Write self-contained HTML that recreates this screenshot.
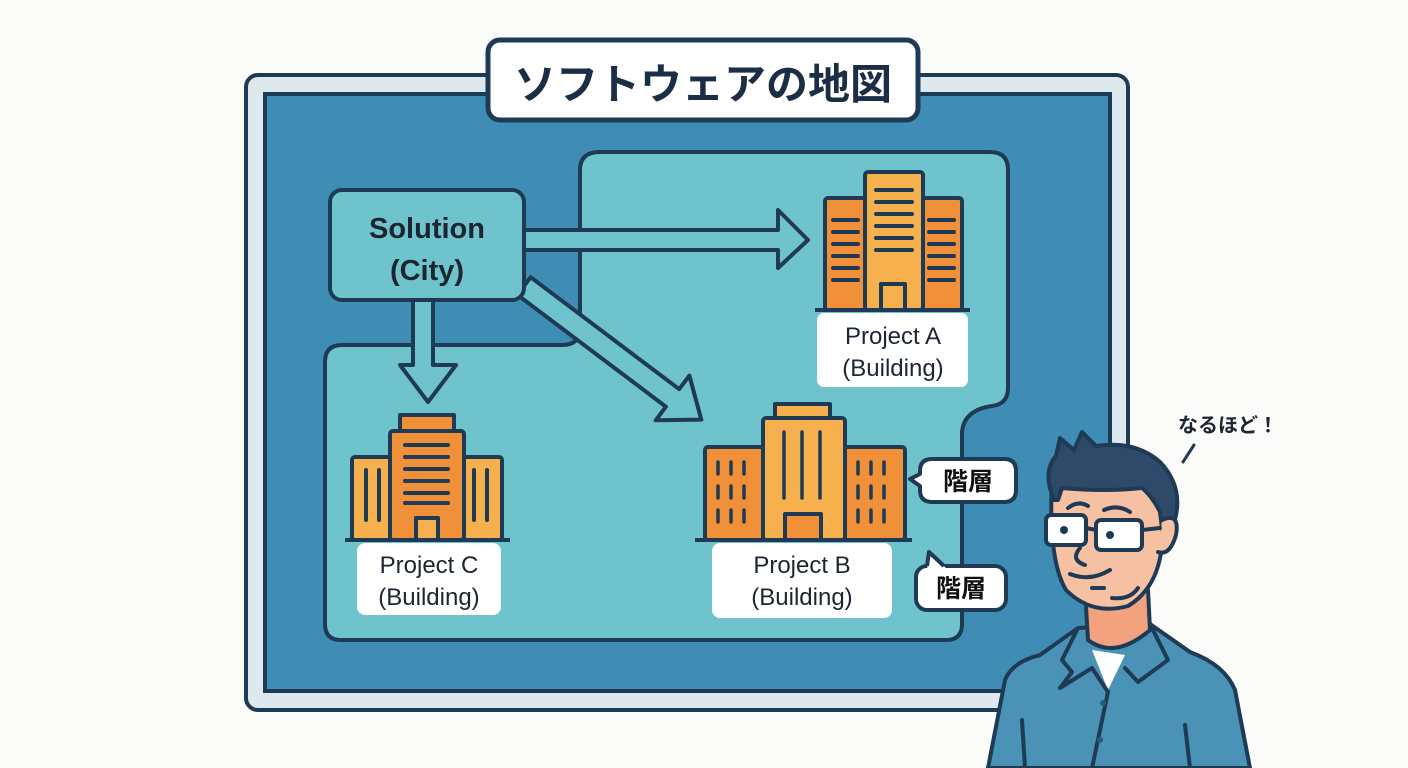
<!DOCTYPE html>
<html><head><meta charset="utf-8"><style>
html,body{margin:0;padding:0;background:#fbfbf9;}
svg{display:block}
text{font-family:"Liberation Sans","Noto Sans CJK JP",sans-serif;}
</style></head><body>
<svg width="1408" height="768" viewBox="0 0 1408 768" xmlns="http://www.w3.org/2000/svg">
<rect width="1408" height="768" fill="#fbfbf9"/>
<!-- frame -->
<rect x="246" y="75" width="882" height="635" rx="12" fill="#dde9ef" stroke="#1f3a55" stroke-width="4"/>
<rect x="265" y="94" width="845" height="597" fill="#3f8db5" stroke="#1f3a55" stroke-width="4"/>
<!-- light region -->
<path d="M600,152 H990 Q1008,152 1008,170 V388 Q1008,404 992,406 Q964,410 962,432 V624 Q962,640 946,640 H341 Q325,640 325,624 V362 Q325,345 342,345 H562 Q580,345 580,328 V170 Q580,152 600,152 Z" fill="#6fc3cc" stroke="#1f3a55" stroke-width="4"/>
<!-- title -->
<rect x="488" y="40" width="430" height="80" rx="12" fill="#ffffff" stroke="#1f3a55" stroke-width="5"/>
<text x="703" y="99" font-size="42" font-weight="bold" fill="#1c2e45" text-anchor="middle">ソフトウェアの地図</text>
<!-- arrows -->
<g fill="#6fc3cc" stroke="#1f3a55" stroke-width="4" stroke-linejoin="round">
<path d="M520,230 H778 V210 L808,240 L778,268 V250 H520 Z"/>
<path d="M413,296 V365 H400 L428,402 L456,365 H433 V296 Z"/>
<path transform="translate(524,286) rotate(37)" d="M0,-11 H186 V-28 L222,0 L186,28 V11 H0 Z"/>
</g>
<!-- solution box -->
<rect x="330" y="190" width="194" height="110" rx="12" fill="#6fc3cc" stroke="#1f3a55" stroke-width="4"/>
<text x="427" y="238" font-size="29" font-weight="bold" fill="#1c2632" text-anchor="middle">Solution</text>
<text x="427" y="280" font-size="29" font-weight="bold" fill="#1c2632" text-anchor="middle">(City)</text>

<!-- Project A building -->
<g stroke="#1f3a55" stroke-width="4" stroke-linejoin="round">
<rect x="825" y="198" width="42" height="112" rx="3" fill="#f0913a"/>
<rect x="920" y="198" width="42" height="112" rx="3" fill="#f0913a"/>
<rect x="865" y="172" width="58" height="138" rx="3" fill="#f6b04e"/>
<rect x="881" y="284" width="24" height="26" fill="#f6b04e"/>
<line x1="815" y1="310" x2="970" y2="310"/>
</g>
<g stroke="#1f3a55" stroke-width="4" stroke-linecap="round">
<path d="M876,190H912 M876,202H912 M876,214H912 M876,226H912 M876,238H912 M876,250H912"/>
<path d="M833,220H858 M833,232H858 M833,244H858 M833,256H858 M833,268H858 M833,280H858"/>
<path d="M929,220H954 M929,232H954 M929,244H954 M929,256H954 M929,268H954 M929,280H954"/>
</g>
<rect x="817" y="313" width="151" height="74" rx="7" fill="#ffffff"/>
<text x="893" y="344" font-size="24" fill="#1c2632" text-anchor="middle">Project A</text>
<text x="893" y="376" font-size="24" fill="#1c2632" text-anchor="middle">(Building)</text>

<!-- Project B building -->
<g stroke="#1f3a55" stroke-width="4" stroke-linejoin="round">
<rect x="775" y="404" width="55" height="14" fill="#f6b04e"/>
<rect x="705" y="447" width="62" height="93" rx="3" fill="#f0913a"/>
<rect x="843" y="447" width="62" height="93" rx="3" fill="#f0913a"/>
<rect x="763" y="418" width="82" height="122" rx="3" fill="#f6b04e"/>
<rect x="785" y="514" width="36" height="26" fill="#f0913a"/>
<line x1="695" y1="540" x2="912" y2="540"/>
</g>
<g stroke="#1f3a55" stroke-width="3.5" stroke-linecap="round">
<path d="M784,432V498 M802,432V498 M820,432V498"/>
<path d="M718,462V474 M731,462V474 M744,462V474 M718,486V498 M731,486V498 M744,486V498 M718,510V522 M731,510V522 M744,510V522"/>
<path d="M858,462V474 M871,462V474 M884,462V474 M858,486V498 M871,486V498 M884,486V498 M858,510V522 M871,510V522 M884,510V522"/>
</g>
<rect x="712" y="543" width="180" height="75" rx="8" fill="#ffffff"/>
<text x="802" y="573" font-size="24" fill="#1c2632" text-anchor="middle">Project B</text>
<text x="802" y="605" font-size="24" fill="#1c2632" text-anchor="middle">(Building)</text>

<!-- Project C building -->
<g stroke="#1f3a55" stroke-width="4" stroke-linejoin="round">
<rect x="400" y="415" width="54" height="16" fill="#f0913a"/>
<rect x="352" y="457" width="42" height="83" rx="3" fill="#f6b04e"/>
<rect x="460" y="457" width="42" height="83" rx="3" fill="#f6b04e"/>
<rect x="390" y="431" width="74" height="109" rx="3" fill="#f0913a"/>
<rect x="416" y="518" width="22" height="22" fill="#f6b04e"/>
<line x1="345" y1="540" x2="510" y2="540"/>
</g>
<g stroke="#1f3a55" stroke-width="4" stroke-linecap="round">
<path d="M405,445H448 M405,457H448 M405,469H448 M405,481H448 M405,493H448 M405,503H448"/>
<path d="M366,470V520 M379,470V520 M474,470V520 M487,470V520"/>
</g>
<rect x="357" y="543" width="144" height="72" rx="8" fill="#ffffff"/>
<text x="429" y="573" font-size="24" fill="#1c2632" text-anchor="middle">Project C</text>
<text x="429" y="605" font-size="24" fill="#1c2632" text-anchor="middle">(Building)</text>

<!-- bubbles -->
<g fill="#ffffff" stroke="#1f3a55" stroke-width="4" stroke-linejoin="round">
<path d="M932,459 H1004 Q1016,459 1016,471 V490 Q1016,502 1004,502 H932 Q920,502 920,490 V486 L910,479 L920,474 V471 Q920,459 932,459 Z"/>
<rect x="916" y="566" width="90" height="44" rx="11"/>
</g>
<path d="M927,570 L929,552 L948,570 Z" fill="#ffffff"/>
<path d="M927,566 L929,552 L944,566" fill="none" stroke="#1f3a55" stroke-width="4" stroke-linejoin="round"/>
<text x="968" y="490" font-size="25" font-weight="bold" fill="#111" text-anchor="middle">階層</text>
<text x="961" y="597" font-size="25" font-weight="bold" fill="#111" text-anchor="middle">階層</text>

<!-- person -->
<g stroke="#1f3a55" stroke-width="4" stroke-linejoin="round" stroke-linecap="round">
<path d="M988,768 L1005,680 Q1012,662 1040,655 L1078,628 L1150,624 L1190,652 Q1225,665 1235,690 L1250,768 Z" fill="#4a92b6"/>
<path d="M1085,590 L1088,640 Q1115,660 1150,630 L1148,590 Z" fill="#f2a27f"/>
<path d="M1092,650 L1108,690 L1125,655 Z" fill="#ffffff" stroke="none"/>
<path d="M1078,628 L1062,660 L1072,672 L1060,688 L1092,668 L1108,692 M1150,624 L1168,660 L1138,682 L1125,668 M1108,692 L1092,768 M1022,720 L1025,768 M1185,725 L1190,768" fill="none"/>
<path d="M1052,480 Q1048,560 1066,590 Q1092,616 1128,606 Q1158,588 1162,545 L1168,512 Q1182,502 1170,488 L1150,470 Z" fill="#f6c1a2"/>
<path d="M1054,500 Q1042,472 1056,456 L1060,438 L1074,450 L1082,432 L1096,446 Q1135,440 1160,462 Q1182,485 1176,515 Q1172,535 1164,545 L1160,512 Q1152,496 1142,488 Q1105,492 1062,488 L1058,500 Z" fill="#2f4a68"/>
<path d="M1162,520 Q1180,512 1176,535 Q1170,556 1158,552" fill="#f6c1a2"/>
<rect x="1046" y="515" width="40" height="30" rx="5" fill="#ffffff"/>
<rect x="1096" y="520" width="46" height="30" rx="5" fill="#ffffff"/>
<path d="M1086,528 L1096,530 M1142,530 L1160,528 M1080,548 Q1070,560 1085,565 M1070,574 Q1090,582 1110,570 M1092,588 L1104,588 M1068,508 Q1078,500 1088,506 M1104,510 Q1118,504 1130,512 M1112,598 Q1130,600 1138,588" fill="none"/>
<path d="M1194,445 L1183,462" fill="none" stroke-width="3"/>
</g>
<circle cx="1064" cy="530" r="4" fill="#1f3a55"/>
<circle cx="1110" cy="535" r="4" fill="#1f3a55"/>
<circle cx="1103" cy="703" r="3" fill="#2a5a7a"/>
<circle cx="1100" cy="740" r="3" fill="#2a5a7a"/>
<text x="1228" y="432" font-size="20" font-weight="bold" fill="#1c2632" text-anchor="middle">なるほど！</text>
</svg>
</body></html>
